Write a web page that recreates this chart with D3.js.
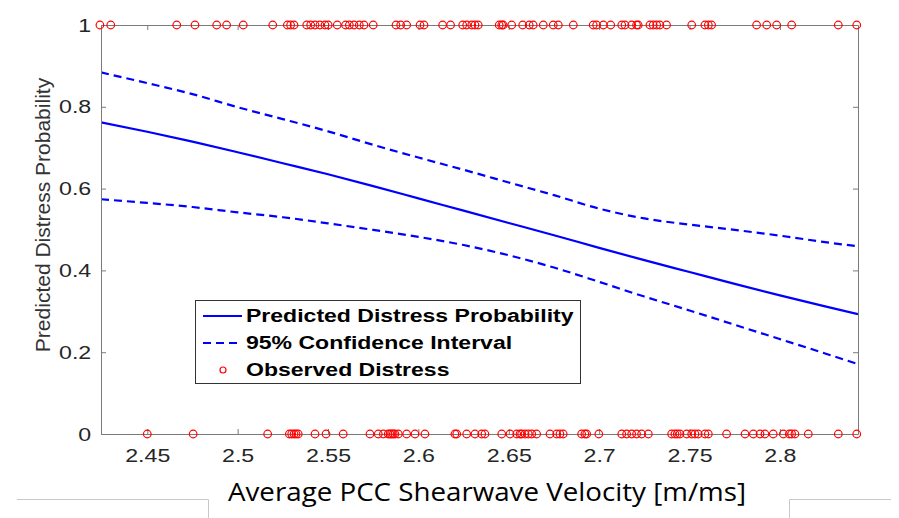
<!DOCTYPE html>
<html>
<head>
<meta charset="utf-8">
<script src="https://cdn.jsdelivr.net/npm/d3@7"></script>
<style>
  html, body { margin: 0; padding: 0; background: #fff; }
  svg { display: block; }
</style>
</head>
<body>
<svg id="chart" width="899" height="518"></svg>
<script>
// ---------------- DATA ----------------
const xDomain = [2.4244, 2.8432];
const yDomain = [0, 1];
const xTicks = [2.45, 2.5, 2.55, 2.6, 2.65, 2.7, 2.75, 2.8];
const xTickLabels = ["2.45", "2.5", "2.55", "2.6", "2.65", "2.7", "2.75", "2.8"];
const yTicks = [0, 0.2, 0.4, 0.6, 0.8, 1];
const yTickLabels = ["0", "0.2", "0.4", "0.6", "0.8", "1"];

const curveX = [2.4244, 2.45, 2.475, 2.5, 2.525, 2.55, 2.575, 2.6, 2.625, 2.65, 2.675, 2.7, 2.725, 2.75, 2.775, 2.8, 2.825, 2.8432];
const predicted = [0.762, 0.739, 0.715, 0.689, 0.662, 0.635, 0.606, 0.576, 0.546, 0.516, 0.486, 0.455, 0.425, 0.396, 0.367, 0.339, 0.312, 0.293];
const ciUpper = [0.884, 0.858, 0.831, 0.799, 0.770, 0.740, 0.707, 0.676, 0.646, 0.615, 0.584, 0.551, 0.527, 0.512, 0.499, 0.485, 0.469, 0.459];
const ciLower = [0.574, 0.565, 0.555, 0.542, 0.530, 0.515, 0.499, 0.482, 0.462, 0.437, 0.407, 0.372, 0.336, 0.302, 0.267, 0.232, 0.197, 0.171];

// observed distress = 1
const observedYes = [2.4238, 2.4298, 2.4663, 2.4764, 2.4884, 2.4939, 2.5031, 2.5194, 2.5275, 2.5293, 2.5312,
  2.5382, 2.5404, 2.5428, 2.5455, 2.5483, 2.5501, 2.5551, 2.5597, 2.5618, 2.5644, 2.5673, 2.5699, 2.5750,
  2.5876, 2.5902, 2.5935, 2.6009, 2.6031, 2.6134, 2.6178, 2.6245, 2.6267, 2.6295, 2.6313, 2.6331,
  2.6447, 2.6461, 2.6469, 2.6516, 2.6577, 2.6613, 2.6635, 2.6691, 2.6746, 2.6774, 2.6857, 2.6967, 2.6986,
  2.7023, 2.7064, 2.7125, 2.7143, 2.7180, 2.7207, 2.7216, 2.7281, 2.7299, 2.7318, 2.7336, 2.7373,
  2.7512, 2.7585, 2.7604, 2.7622, 2.7871, 2.7927, 2.7982, 2.8065, 2.8323, 2.8425];
// observed distress = 0
const observedNo = [2.4500, 2.4754, 2.5166, 2.5286, 2.5299, 2.5312, 2.5323, 2.5335, 2.5428, 2.5489, 2.5584,
  2.5732, 2.5778, 2.5806, 2.5833, 2.5843, 2.5852, 2.5861, 2.5870, 2.5889, 2.5935, 2.5981, 2.6036,
  2.6202, 2.6212, 2.6267, 2.6313, 2.6350, 2.6368, 2.6461, 2.6507, 2.6544, 2.6562, 2.6571, 2.6590,
  2.6608, 2.6627, 2.6654, 2.6728, 2.6765, 2.6783, 2.6801, 2.6903, 2.6921, 2.6931, 2.6998,
  2.7125, 2.7152, 2.7180, 2.7207, 2.7235, 2.7272, 2.7401, 2.7419, 2.7432, 2.7447, 2.7484, 2.7512,
  2.7530, 2.7548, 2.7585, 2.7604, 2.7705, 2.7807, 2.7853, 2.7890, 2.7917, 2.7963, 2.8019, 2.8052,
  2.8065, 2.8083, 2.8157, 2.8323, 2.8425];

const legendLabels = ["Predicted Distress Probability", "95% Confidence Interval", "Observed Distress"];
const xLabel = "Average PCC Shearwave Velocity [m/ms]";
const yLabel = "Predicted Distress Probability";

// ---------------- LAYOUT ----------------
const svg = d3.select("#chart");
const L = 101, R = 858, T = 25, B = 434;
const x = d3.scaleLinear().domain(xDomain).range([L, R]);
const y = d3.scaleLinear().domain(yDomain).range([B, T]);

const axisColor = "#7a7a7a";
const textColor = "#262626";
const blue = "#0000ff";
const red = "#ff0000";
const tickFont = "'Liberation Sans', Arial, Helvetica, sans-serif";
const stretch = 1.22; // the figure is stretched horizontally

svg.append("rect").attr("width", 899).attr("height", 518).attr("fill", "#fff");

// curves (clipped to plot)
svg.append("clipPath").attr("id", "clip")
  .append("rect").attr("x", L).attr("y", T).attr("width", R - L).attr("height", B - T);

const line = d3.line().x(d => x(d[0])).y(d => y(d[1])).curve(d3.curveMonotoneX);
const g = svg.append("g").attr("clip-path", "url(#clip)");
g.append("path").datum(curveX.map((v, i) => [v, ciUpper[i]]))
  .attr("d", line).attr("fill", "none").attr("stroke", blue).attr("stroke-width", 2.2).attr("stroke-dasharray", "8,5");
g.append("path").datum(curveX.map((v, i) => [v, ciLower[i]]))
  .attr("d", line).attr("fill", "none").attr("stroke", blue).attr("stroke-width", 2.2).attr("stroke-dasharray", "8,5");
g.append("path").datum(curveX.map((v, i) => [v, predicted[i]]))
  .attr("d", line).attr("fill", "none").attr("stroke", blue).attr("stroke-width", 2.2);

// axes box with inward ticks
const axB = d3.axisBottom(x).tickValues(xTicks).tickFormat((d, i) => xTickLabels[i]).tickSizeInner(-5).tickSizeOuter(0).tickPadding(15);
const axT = d3.axisTop(x).tickValues(xTicks).tickFormat("").tickSizeInner(-5).tickSizeOuter(0);
const axLf = d3.axisLeft(y).tickValues(yTicks).tickFormat((d, i) => yTickLabels[i]).tickSizeInner(-5).tickSizeOuter(0).tickPadding(8);
const axRt = d3.axisRight(y).tickValues(yTicks).tickFormat("").tickSizeInner(-5).tickSizeOuter(0);

function styleAxis(sel) {
  sel.select(".domain").attr("stroke", axisColor).attr("stroke-width", 1);
  sel.selectAll(".tick line").attr("stroke", axisColor);
  sel.selectAll(".tick text").attr("fill", textColor).style("font-family", tickFont).style("font-size", "19px")
    .attr("transform", `scale(${stretch},1)`);
}
svg.append("g").attr("transform", `translate(0,${B})`).call(axB).call(styleAxis);
svg.append("g").attr("transform", `translate(0,${T})`).call(axT).call(styleAxis);
svg.append("g").attr("transform", `translate(${L},0)`).call(axLf).call(styleAxis);
svg.append("g").attr("transform", `translate(${R},0)`).call(axRt).call(styleAxis);

// observed points
const pts = svg.append("g");
pts.selectAll("circle.yes").data(observedYes).join("circle").attr("class", "yes")
  .attr("cx", d => x(d)).attr("cy", y(1)).attr("r", 3.8)
  .attr("fill", "none").attr("stroke", red).attr("stroke-width", 1.2);
pts.selectAll("circle.no").data(observedNo).join("circle").attr("class", "no")
  .attr("cx", d => x(d)).attr("cy", y(0)).attr("r", 3.8)
  .attr("fill", "none").attr("stroke", red).attr("stroke-width", 1.2);

// y label
svg.append("text")
  .attr("transform", "translate(50,215) rotate(-90)")
  .attr("text-anchor", "middle")
  .attr("fill", "#333")
  .style("font-family", tickFont).style("font-size", "21px")
  .text(yLabel);

// legend
const lg = svg.append("g");
lg.append("rect").attr("x", 195.5).attr("y", 300.5).attr("width", 385).attr("height", 83)
  .attr("fill", "#fff").attr("stroke", "#333").attr("stroke-width", 1);
const rows = [316, 343, 370];
lg.append("line").attr("x1", 203).attr("x2", 242).attr("y1", rows[0]).attr("y2", rows[0])
  .attr("stroke", blue).attr("stroke-width", 2.2);
lg.append("line").attr("x1", 203).attr("x2", 242).attr("y1", rows[1]).attr("y2", rows[1])
  .attr("stroke", blue).attr("stroke-width", 2.2).attr("stroke-dasharray", "8,5");
lg.append("circle").attr("cx", 223).attr("cy", rows[2]).attr("r", 3)
  .attr("fill", "none").attr("stroke", red).attr("stroke-width", 1.2);
lg.selectAll("text.lg").data(legendLabels).join("text").attr("class", "lg")
  .attr("transform", (d, i) => `translate(246,${rows[i]}) scale(1.28,1)`)
  .attr("dy", "0.36em")
  .attr("fill", "#000").style("font-family", tickFont).style("font-size", "18px").style("font-weight", "bold")
  .text(d => d);

// x label (slide text)
svg.append("text")
  .attr("x", 487).attr("y", 501).attr("text-anchor", "middle")
  .attr("fill", "#000")
  .style("font-family", "'Open Sans', sans-serif").style("font-size", "25px")
  .attr("textLength", 518).attr("lengthAdjust", "spacingAndGlyphs")
  .text(xLabel);

// decorative slide lines
const deco = svg.append("g").attr("stroke", "#c8c8c8").attr("stroke-width", 1).attr("fill", "none");
deco.append("path").attr("d", "M17,499.5 H208.5 V518");
deco.append("path").attr("d", "M789.5,518 V499.5 H891");
</script>
</body>
</html>
